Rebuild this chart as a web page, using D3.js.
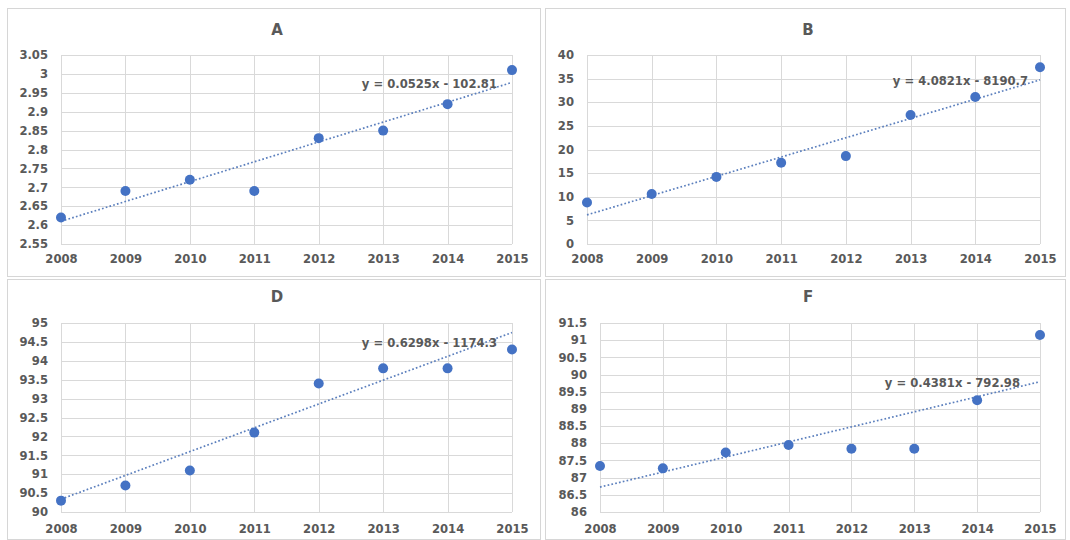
<!DOCTYPE html>
<html>
<head>
<meta charset="utf-8">
<script src="https://cdn.jsdelivr.net/npm/d3@7"></script>
<style>
  html, body { margin: 0; padding: 0; background: #ffffff; }
  svg { display: block; }
  text { font-family: "DejaVu Sans", sans-serif; font-weight: bold; fill: #595959; }
</style>
</head>
<body>
<svg id="chart" width="1070" height="540"></svg>
<script>
// Years on the shared x axis
const years = [2008, 2009, 2010, 2011, 2012, 2013, 2014, 2015];

// Series values per panel
const valuesA = [2.62, 2.69, 2.72, 2.69, 2.83, 2.85, 2.92, 3.01];
const valuesB = [8.8, 10.6, 14.2, 17.2, 18.6, 27.3, 31.1, 37.4];
const valuesD = [90.3, 90.7, 91.1, 92.1, 93.4, 93.8, 93.8, 94.3];
const valuesF = [87.34, 87.27, 87.73, 87.95, 87.84, 87.84, 89.25, 91.15];

// Panel titles
const titles = ["A", "B", "D", "F"];

// Linear trend coefficients (y = slope * x + intercept)
const slopes = [0.0525, 4.0821, 0.6298, 0.4381];
const intercepts = [-102.81, -8190.7, -1174.3, -792.98];

// Y tick labels per panel
const ticksA = [2.55, 2.6, 2.65, 2.7, 2.75, 2.8, 2.85, 2.9, 2.95, 3, 3.05];
const ticksB = [0, 5, 10, 15, 20, 25, 30, 35, 40];
const ticksD = [90, 90.5, 91, 91.5, 92, 92.5, 93, 93.5, 94, 94.5, 95];
const ticksF = [86, 86.5, 87, 87.5, 88, 88.5, 89, 89.5, 90, 90.5, 91, 91.5];

const series = [valuesA, valuesB, valuesD, valuesF];
const tickSets = [ticksA, ticksB, ticksD, ticksF];

// Panel geometry: plot area, frame, title and equation placement
const layout = [
  { x0: 61,  x1: 512,  y0: 55,  y1: 244, frame: [7, 8, 540, 276],    titleX: 277, titleY: 35,  eqX: 497,  eqY: 88,  xLabelY: 263 },
  { x0: 587, x1: 1040, y0: 55,  y1: 244, frame: [545, 8, 1065, 276], titleX: 808, titleY: 35,  eqX: 1028, eqY: 85,  xLabelY: 263 },
  { x0: 61,  x1: 512,  y0: 323, y1: 512, frame: [7, 279, 540, 539],  titleX: 277, titleY: 302, eqX: 497,  eqY: 347, xLabelY: 533 },
  { x0: 600, x1: 1040, y0: 323, y1: 512, frame: [545, 279, 1065, 539], titleX: 808, titleY: 302, eqX: 1020, eqY: 387, xLabelY: 533 }
];

const svg = d3.select("#chart");
const gridColor = "#d9d9d9";
const dotColor = "#4472c4";
const trendColor = "#5b7fbd";
const labelSize = 11.6;

layout.forEach((L, i) => {
  const vals = series[i];
  const ticks = tickSets[i];
  const g = svg.append("g");

  // Panel frame
  g.append("rect")
    .attr("x", L.frame[0] + 0.5).attr("y", L.frame[1] + 0.5)
    .attr("width", L.frame[2] - L.frame[0]).attr("height", L.frame[3] - L.frame[1])
    .attr("fill", "#ffffff").attr("stroke", "#d6d6d6").attr("stroke-width", 1);

  const x = d3.scaleLinear().domain([years[0], years[years.length - 1]]).range([L.x0, L.x1]);
  const y = d3.scaleLinear().domain([ticks[0], ticks[ticks.length - 1]]).range([L.y1, L.y0]);

  // Horizontal gridlines and y tick labels
  const yAxis = d3.axisLeft(y).tickValues(ticks).tickSize(-(L.x1 - L.x0)).tickPadding(13)
    .tickFormat(d => String(+d.toFixed(2)));
  const ya = g.append("g").attr("transform", `translate(${L.x0},0)`).call(yAxis);
  ya.select(".domain").remove();
  ya.selectAll(".tick line").attr("stroke", gridColor).attr("shape-rendering", "crispEdges");
  ya.selectAll(".tick text").attr("font-size", labelSize).attr("fill", "#595959")
    .attr("font-family", "DejaVu Sans, sans-serif").attr("font-weight", "bold");

  // Vertical gridlines and year labels
  const xAxis = d3.axisBottom(x).tickValues(years).tickSize(-(L.y1 - L.y0)).tickPadding(0)
    .tickFormat(d3.format("d"));
  const xa = g.append("g").attr("transform", `translate(0,${L.y1})`).call(xAxis);
  xa.select(".domain").remove();
  xa.selectAll(".tick line").attr("stroke", gridColor).attr("shape-rendering", "crispEdges");
  xa.selectAll(".tick text").attr("font-size", labelSize).attr("fill", "#595959")
    .attr("font-family", "DejaVu Sans, sans-serif").attr("font-weight", "bold")
    .attr("dy", null).attr("y", L.xLabelY - L.y1);

  // Title
  g.append("text").attr("x", L.titleX).attr("y", L.titleY)
    .attr("text-anchor", "middle").attr("font-size", 15).attr("fill", "#595959")
    .text(titles[i]);

  // Dotted linear trend line
  const trend = years.map(t => [t, slopes[i] * t + intercepts[i]]);
  g.append("path")
    .datum([trend[0], trend[trend.length - 1]])
    .attr("d", d3.line().x(d => x(d[0])).y(d => y(d[1])))
    .attr("fill", "none").attr("stroke", trendColor)
    .attr("stroke-width", 1.7).attr("stroke-dasharray", "1.7,2.2");

  // Trend equation
  g.append("text").attr("x", L.eqX).attr("y", L.eqY)
    .attr("text-anchor", "end").attr("font-size", labelSize).attr("fill", "#404040")
    .text(`y = ${slopes[i]}x - ${Math.abs(intercepts[i])}`);

  // Data points
  g.selectAll("circle.pt").data(vals).join("circle")
    .attr("class", "pt")
    .attr("cx", (d, j) => x(years[j]))
    .attr("cy", d => y(d))
    .attr("r", 5)
    .attr("fill", dotColor);
});
</script>
</body>
</html>
